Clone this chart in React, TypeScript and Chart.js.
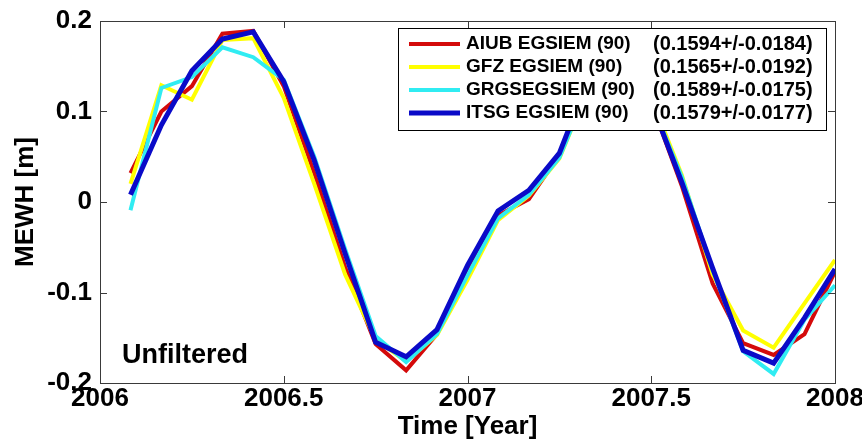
import React, { useEffect, useRef } from 'react';
import { Chart, registerables } from 'chart.js';

Chart.register(...registerables);

// Time axis (decimal year, monthly)
const times = [
  2006.083, 2006.167, 2006.25, 2006.333, 2006.417, 2006.5,
  2006.583, 2006.667, 2006.75, 2006.833, 2006.917, 2007.0,
  2007.083, 2007.167, 2007.25, 2007.333, 2007.417, 2007.5,
  2007.583, 2007.667, 2007.75, 2007.833, 2007.917, 2008.0,
];

// MEWH [m] per solution
const aiub = [
  0.032, 0.100, 0.128, 0.186, 0.189, 0.128,
  0.032, -0.072, -0.157, -0.186, -0.146, -0.076,
  -0.015, 0.003, 0.052, 0.140, 0.180, 0.110,
  0.018, -0.090, -0.156, -0.169, -0.146, -0.077,
];
const gfz = [
  0.020, 0.129, 0.113, 0.179, 0.181, 0.115,
  0.020, -0.080, -0.152, -0.176, -0.147, -0.086,
  -0.020, 0.007, 0.048, 0.130, 0.170, 0.115,
  0.030, -0.080, -0.142, -0.161, -0.112, -0.064,
];
const grgs = [
  -0.009, 0.126, 0.138, 0.171, 0.160, 0.135,
  0.050, -0.052, -0.148, -0.177, -0.146, -0.081,
  -0.018, 0.008, 0.049, 0.130, 0.170, 0.110,
  0.028, -0.075, -0.165, -0.190, -0.130, -0.092,
];
const itsg = [
  0.008, 0.085, 0.145, 0.180, 0.188, 0.133,
  0.046, -0.057, -0.155, -0.171, -0.141, -0.070,
  -0.010, 0.013, 0.054, 0.140, 0.175, 0.110,
  0.022, -0.073, -0.164, -0.178, -0.128, -0.074,
];

const seriesNames = ['AIUB EGSIEM (90)', 'GFZ EGSIEM (90)', 'GRGSEGSIEM (90)', 'ITSG EGSIEM (90)'];
const seriesStats = ['(0.1594+/-0.0184)', '(0.1565+/-0.0192)', '(0.1589+/-0.0175)', '(0.1579+/-0.0177)'];
const seriesValues = [aiub, gfz, grgs, itsg];
const seriesColors = ['#d40a0a', '#ffff00', '#30ecf2', '#0a0ac8'];
const seriesWidths = [4, 4, 4, 5];

const xTickValues = [2006, 2006.5, 2007, 2007.5, 2008];
const xTickLabels = ['2006', '2006.5', '2007', '2007.5', '2008'];
const yTickValues = [-0.2, -0.1, 0, 0.1, 0.2];
const yTickLabels = ['-0.2', '-0.1', '0', '0.1', '0.2'];

const annotationText = 'Unfiltered';
const annotationX = 2006.06;
const annotationY = -0.17;

const FONT = "'Liberation Sans', Arial, Helvetica, sans-serif";

const framePlugin = {
  id: 'frameAndLegend',
  afterDraw(chart: any) {
    const { ctx, chartArea } = chart;
    const { left, right, top, bottom } = chartArea;
    const xs = chart.scales.x;
    const ys = chart.scales.y;
    ctx.save();
    // frame
    ctx.strokeStyle = '#3a3a3a';
    ctx.lineWidth = 1;
    ctx.strokeRect(Math.round(left) + 0.5, Math.round(top) + 0.5, Math.round(right - left), Math.round(bottom - top));
    const tl = 7;
    ctx.beginPath();
    xTickValues.forEach((v) => {
      const px = Math.round(xs.getPixelForValue(v)) + 0.5;
      ctx.moveTo(px, bottom);
      ctx.lineTo(px, bottom - tl);
      ctx.moveTo(px, top);
      ctx.lineTo(px, top + tl);
    });
    yTickValues.forEach((v) => {
      const py = Math.round(ys.getPixelForValue(v)) + 0.5;
      ctx.moveTo(left, py);
      ctx.lineTo(left + tl, py);
      ctx.moveTo(right, py);
      ctx.lineTo(right - tl, py);
    });
    ctx.stroke();

    // annotation
    ctx.fillStyle = '#000';
    ctx.font = `bold 27px ${FONT}`;
    ctx.textAlign = 'left';
    ctx.textBaseline = 'middle';
    ctx.fillText(annotationText, xs.getPixelForValue(annotationX), ys.getPixelForValue(annotationY));

    // legend
    const bx0 = right - 9;
    const bLeft = bx0 - 428;
    const bTop = top + 7;
    const bH = 102;
    ctx.fillStyle = '#ffffff';
    ctx.fillRect(bLeft, bTop, bx0 - bLeft, bH);
    ctx.strokeStyle = '#000';
    ctx.lineWidth = 1;
    ctx.strokeRect(Math.round(bLeft) + 0.5, Math.round(bTop) + 0.5, Math.round(bx0 - bLeft), bH);
    ctx.textBaseline = 'middle';
    ctx.fillStyle = '#000';
    seriesNames.forEach((name, i) => {
      const ry = bTop + 16 + i * 23;
      ctx.strokeStyle = seriesColors[i];
      ctx.lineWidth = seriesWidths[i];
      ctx.beginPath();
      ctx.moveTo(bLeft + 11, ry);
      ctx.lineTo(bLeft + 62, ry);
      ctx.stroke();
      ctx.font = `bold 19px ${FONT}`;
      ctx.fillText(name, bLeft + 68, ry);
      ctx.font = `bold 20px ${FONT}`;
      ctx.fillText(seriesStats[i], bLeft + 255, ry);
    });
    ctx.restore();
  },
};

export default function App() {
  const ref = useRef<HTMLCanvasElement | null>(null);
  useEffect(() => {
    if (!ref.current) return;
    const datasets = seriesValues.map((vals, i) => ({
      label: seriesNames[i],
      data: times.map((t, j) => ({ x: t, y: vals[j] })),
      borderColor: seriesColors[i],
      backgroundColor: seriesColors[i],
      borderWidth: seriesWidths[i],
      pointRadius: 0,
      tension: 0,
      fill: false,
      order: seriesValues.length - i,
      borderJoinStyle: 'miter' as const,
    }));
    const tickFont = { family: FONT, size: 26, weight: 'bold' as const };
    const chart = new Chart(ref.current, {
      type: 'line',
      data: { datasets },
      plugins: [framePlugin],
      options: {
        animation: false,
        responsive: false,
        devicePixelRatio: 1,
        layout: { padding: { top: 21, right: 27, left: 0, bottom: 0 } },
        plugins: { legend: { display: false }, tooltip: { enabled: false } },
        scales: {
          x: {
            type: 'linear',
            min: 2006,
            max: 2008,
            grid: { display: false, drawTicks: false },
            border: { display: false },
            afterBuildTicks: (scale: any) => {
              scale.ticks = xTickValues.map((v) => ({ value: v }));
            },
            ticks: {
              font: tickFont,
              color: '#000',
              padding: 0,
              maxRotation: 0,
              autoSkip: false,
              callback: (v: any) => xTickLabels[xTickValues.indexOf(Number(v))] ?? '',
            },
            title: { display: true, text: 'Time [Year]', font: tickFont, color: '#000', padding: { top: 0, bottom: 0 } },
            afterFit: (scale: any) => {
              scale.height = 59;
              scale.paddingLeft = 0;
              scale.paddingRight = 0;
            },
          },
          y: {
            type: 'linear',
            min: -0.2,
            max: 0.2,
            grid: { display: false, drawTicks: false },
            border: { display: false },
            afterBuildTicks: (scale: any) => {
              scale.ticks = yTickValues.map((v) => ({ value: v }));
            },
            ticks: {
              font: tickFont,
              color: '#000',
              padding: 8,
              autoSkip: false,
              callback: (v: any) => yTickLabels[yTickValues.indexOf(Number(v))] ?? '',
            },
            title: { display: true, text: 'MEWH [m]', font: tickFont, color: '#000', padding: { top: 10, bottom: 0 } },
            afterFit: (scale: any) => {
              scale.width = 100;
              scale.paddingTop = 0;
              scale.paddingBottom = 0;
            },
          },
        },
      },
    });
    return () => chart.destroy();
  }, []);
  return (
    <div style={{ position: 'fixed', left: 0, top: 0, width: 862, height: 442, background: '#fff' }}>
      <canvas ref={ref} width={862} height={442} style={{ width: 862, height: 442, display: 'block' }} />
    </div>
  );
}
